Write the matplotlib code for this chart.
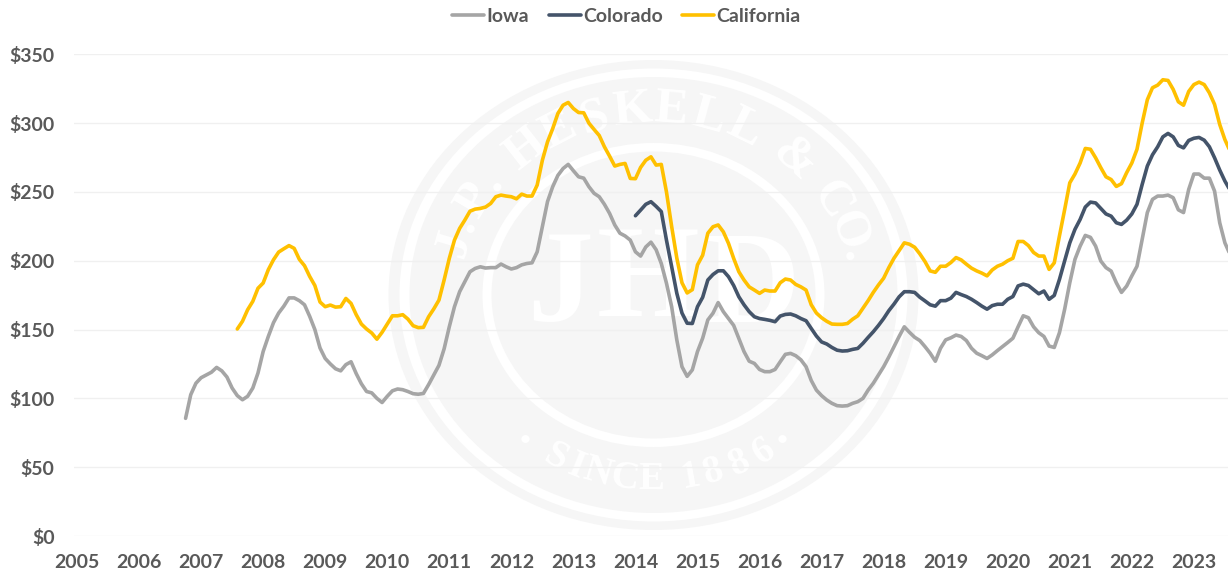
import numpy as np
import matplotlib
matplotlib.use('Agg')
import matplotlib.pyplot as plt
from matplotlib.patches import Ellipse

# monthly values, first point of each series given in months since Jan 2005
iowa_start = 21
iowa = [85.5, 102.7, 111, 115, 117, 119, 122.5, 120, 115.5, 107.5,
        102, 99, 101.5, 107.5, 118.4, 134, 145, 155, 162, 167,
        173, 173, 171, 168, 159.6, 150, 136.6, 129, 125, 121.5,
        120, 124.5, 126.6, 118, 110.6, 105, 104, 100, 97, 101.5,
        105.5, 106.8, 106.3, 105, 103.4, 103, 103.6, 110, 117, 124,
        136, 152, 166.6, 177.5, 184.7, 192, 194.4, 195.6, 194.7, 195,
        195, 197.6, 195.6, 194, 195, 197, 198, 198.5, 206.5, 224.7,
        243, 253.8, 262, 267, 270, 265.4, 261, 260, 253.8, 249,
        246.5, 241, 234.4, 226, 220, 218, 215, 206.5, 203.4, 210,
        213.5, 208, 198, 183.7, 166.7, 142.5, 123, 116, 120.7, 134,
        143.7, 157, 161.9, 169.6, 163, 158, 153, 143.6, 134, 127,
        125.4, 121, 119.4, 119.4, 121, 126.6, 132, 132.7, 131, 128,
        123, 113, 106, 102, 98.8, 96.4, 94.7, 94.4, 94.7, 96.4,
        97.6, 100, 106, 111, 117, 123, 130, 137.5, 145, 152,
        148, 144.4, 142, 137.6, 132.8, 127, 136.4, 142.5, 144, 146,
        145, 142, 136.4, 132.8, 131, 129, 131.6, 134.7, 137.6, 140.6,
        143.7, 152, 160, 158.6, 152, 147.7, 145, 138, 137, 147.7,
        164.6, 184, 201, 210.6, 218.4, 217, 210.6, 199.8, 195, 192.5,
        184, 177, 181.6, 189, 196, 215.5, 235, 244.6, 247, 247,
        247.7, 245.8, 237, 235, 251.8, 263, 263, 260, 260, 250.6,
        227.6, 213, 204.6]

colorado_start = 108
colorado = [232.7, 236.8, 241, 242.9, 239.5, 235.7, 215, 195.8, 176.4, 162,
            154.6, 154.4, 166.6, 173.4, 186, 190, 192.7, 192.7, 188.4, 182,
            173.8, 168, 163, 159.3, 158, 157.4, 156.7, 155.7, 159.8, 161,
            161.3, 160, 158, 156.4, 150.8, 145.3, 141, 139.5, 137, 135,
            134.4, 134.6, 135.6, 136.3, 140, 144.3, 148.4, 153, 158, 163.7,
            168.5, 173.8, 177.5, 177.5, 177, 173.5, 170.8, 168, 167, 171,
            171, 172.8, 177, 175.4, 174, 172, 169.6, 167, 164.8, 167.4,
            168.4, 168.4, 172, 174, 181.7, 183, 182, 179, 176, 178,
            172, 174.8, 186.4, 199.8, 213, 222.8, 230, 239, 242.6, 242,
            238, 234, 232.4, 227.6, 226.4, 229.5, 234, 241, 255.4, 268.8,
            277, 282.8, 290, 292.5, 290, 283.8, 282, 287.4, 289, 289.6,
            287.6, 282.8, 274.8, 265.9, 257.9, 251.3]

california_start = 31
california = [150.4, 156, 164.4, 170.5, 180, 183.8, 193.5, 200.7, 206.3, 208.7,
              211, 209, 201, 196.4, 188.6, 182, 170, 166.6, 167.8, 166.3,
              166.6, 172.6, 169, 160.8, 154, 150.4, 147.5, 143, 148, 154,
              160, 160, 160.8, 157.6, 152.8, 151.4, 151.6, 159.3, 165, 171.4,
              186, 201.7, 215, 223.5, 229.5, 236, 237.5, 238, 239, 241.6,
              246.5, 247.7, 247, 246.5, 245, 248.4, 247, 247, 255, 273,
              286.4, 296, 307, 313, 315, 310.6, 307.7, 307.5, 300, 295.4,
              291, 282.8, 276, 268.8, 270, 270.7, 259.8, 259.6, 267.8, 273,
              275.5, 269.5, 270, 250, 225, 202, 184, 176.6, 179, 197,
              204, 220, 224.7, 226, 221, 212.6, 201.7, 192, 186, 181,
              178.7, 176.3, 178.7, 178, 178, 184, 186.7, 186, 182.8, 181,
              178.7, 168, 162, 158.6, 156, 154, 153.8, 153.8, 154.4, 157.5,
              160, 165.5, 171, 177, 182.4, 187.3, 195, 201.8, 207.4, 213,
              212, 209.8, 205, 199.4, 192.6, 191.6, 196, 196, 198.7, 202.3,
              200.6, 197.5, 194.6, 192.6, 191, 189, 193.3, 196, 197.5, 200,
              201.8, 214, 214, 211, 206, 203.4, 203.4, 193.7, 198.5, 218,
              237, 256.6, 263, 271, 281.6, 281, 274.8, 267.6, 261, 259,
              254, 256, 264, 271, 281, 300, 317, 325.7, 327.6, 331.5,
              331, 324.5, 315.5, 313, 323, 328, 329.8, 328, 322, 313.6,
              299, 288, 279.7]

years = list(range(2005, 2024))
y_ticks = [0, 50, 100, 150, 200, 250, 300, 350]

W, H = 1228, 577
TEXT = '#595959'
RING = '#f6f6f6'
plt.rcParams['font.family'] = ['Lato', 'DejaVu Sans']

fig = plt.figure(figsize=(W / 100, H / 100), dpi=100, facecolor='white')


def arc_text(ax, text, cx, cy, rx, ry, a0, a1, size, bottom=False):
    # letters spread over an ellipse, weighted roughly by their width
    narrow = {' ': 0.55, '.': 0.45, 'I': 0.6, 'J': 0.8, '1': 0.7}
    w = np.array([narrow.get(c, 1.0) for c in text])
    pos = (np.cumsum(w) - w / 2) / w.sum()
    for c, p in zip(text, pos):
        a = np.radians(a0 + (a1 - a0) * p)
        if bottom:
            x, y, rot = cx + rx * np.sin(a), cy + ry * np.cos(a), np.degrees(a)
        else:
            x, y, rot = cx + rx * np.sin(a), cy - ry * np.cos(a), -np.degrees(a)
        ax.text(x, y, c, color='white', fontsize=size, family='Liberation Serif',
                weight='bold', rotation=rot, rotation_mode='anchor',
                ha='center', va='center')


# faint company seal behind the chart, in pixel units
seal = fig.add_axes([0, 0, 1, 1], zorder=0)
seal.set_xlim(0, W)
seal.set_ylim(H, 0)
seal.axis('off')
cx, cy = 653.5, 295
for rx, ry, col in [(265, 235, RING), (254, 226.5, 'white'), (244, 218, RING),
                    (171, 152, 'white'), (162, 143.5, RING)]:
    seal.add_patch(Ellipse((cx, cy), 2 * rx, 2 * ry, fc=col, ec='none'))
arc_text(seal, 'J.P. HESKELL & CO.', cx, cy, 207, 185, -78, 80, 36)
arc_text(seal, 'SINCE 1886', cx, cy, 207, 185, -32, 36, 28, bottom=True)
for sx in (-1, 1):
    a = np.radians(sx * 38.5)
    seal.text(cx + 207 * np.sin(a), cy + 185 * np.cos(a), '\u2022', color='white',
              fontsize=16, ha='center', va='center')
for c, px, py in [('J', 560, 290), ('H', 648, 285), ('D', 752, 290)]:
    seal.text(px, py, c, color='white', fontsize=95, family='Liberation Serif',
              weight='bold', ha='center', va='center')

# main chart
ax = fig.add_axes([74 / W, 1 - 536 / H, (W - 74) / W, (536 - 54.3) / H], zorder=1)
ax.patch.set_alpha(0)
ax.plot(iowa_start + np.arange(len(iowa)), iowa, color='#A5A5A5', lw=2.6,
        solid_joinstyle='round', solid_capstyle='round', label='Iowa')
ax.plot(colorado_start + np.arange(len(colorado)), colorado, color='#44546A', lw=2.6,
        solid_joinstyle='round', solid_capstyle='round', label='Colorado')
ax.plot(california_start + np.arange(len(california)), california, color='#FFC000', lw=2.6,
        solid_joinstyle='round', solid_capstyle='round', label='California')

ax.set_xlim(-0.58, 222.6)
ax.set_ylim(0, 350)
ax.set_xticks([(y - 2005) * 12 for y in years])
ax.set_xticklabels([str(y) for y in years])
ax.set_yticks(y_ticks)
ax.set_yticklabels([f'${v}' for v in y_ticks])
ax.tick_params(axis='both', length=0, labelsize=14, labelcolor=TEXT)
ax.tick_params(axis='x', pad=13)
ax.tick_params(axis='y', pad=14)
for lab in ax.get_xticklabels() + ax.get_yticklabels():
    lab.set_fontweight('bold')
ax.grid(axis='y', color='#f0f0f0', lw=1)
ax.set_axisbelow(True)
for s in ax.spines.values():
    s.set_visible(False)

leg = fig.legend(loc='center', bbox_to_anchor=(626.5 / W, 1 - 16.5 / H), ncol=3, frameon=False,
                 prop={'family': 'Lato', 'weight': 'bold', 'size': 14},
                 handlelength=1.65, handletextpad=0.12, columnspacing=1.0,
                 labelcolor=TEXT, borderpad=0, borderaxespad=0)

fig.savefig('out.png', dpi=100)
